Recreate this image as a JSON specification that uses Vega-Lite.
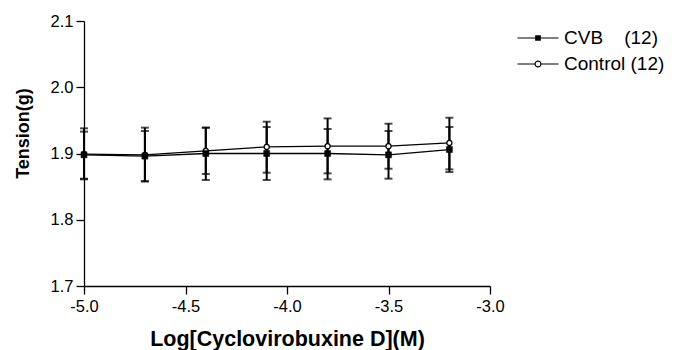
{
  "$schema": "https://vega.github.io/schema/vega-lite/v6.json",
  "autosize": {"type": "none"},
  "padding": {"left": 84, "top": 21, "right": 188, "bottom": 64},
  "width": 406,
  "height": 265,
  "background": "white",
  "config": {
    "font": "Liberation Sans",
    "view": {"stroke": null},
    "axis": {"grid": false, "domainColor": "black", "tickColor": "black", "domainWidth": 1.3, "tickWidth": 1.3, "labelColor": "black", "titleColor": "black", "labelFont": "Liberation Sans", "titleFont": "Liberation Sans"}
  },
  "data": {
    "values": [
      {"x": -5.0, "group": "CVB", "mean": 1.898, "lo": 1.862, "hi": 1.933},
      {"x": -4.7, "group": "CVB", "mean": 1.896, "lo": 1.858, "hi": 1.934},
      {"x": -4.4, "group": "CVB", "mean": 1.900, "lo": 1.860, "hi": 1.939},
      {"x": -4.1, "group": "CVB", "mean": 1.900, "lo": 1.860, "hi": 1.940},
      {"x": -3.8, "group": "CVB", "mean": 1.900, "lo": 1.861, "hi": 1.937},
      {"x": -3.5, "group": "CVB", "mean": 1.898, "lo": 1.862, "hi": 1.934},
      {"x": -3.2, "group": "CVB", "mean": 1.906, "lo": 1.872, "hi": 1.940},
      {"x": -5.0, "group": "Control", "mean": 1.899, "lo": 1.861, "hi": 1.938},
      {"x": -4.7, "group": "Control", "mean": 1.898, "lo": 1.858, "hi": 1.939},
      {"x": -4.4, "group": "Control", "mean": 1.904, "lo": 1.869, "hi": 1.939},
      {"x": -4.1, "group": "Control", "mean": 1.910, "lo": 1.871, "hi": 1.948},
      {"x": -3.8, "group": "Control", "mean": 1.911, "lo": 1.870, "hi": 1.953},
      {"x": -3.5, "group": "Control", "mean": 1.911, "lo": 1.877, "hi": 1.945},
      {"x": -3.2, "group": "Control", "mean": 1.916, "lo": 1.876, "hi": 1.954}
    ]
  },
  "encoding": {
    "x": {
      "field": "x", "type": "quantitative",
      "scale": {"domain": [-5, -3], "nice": false, "zero": false},
      "axis": {
        "values": [-5, -4.5, -4, -3.5, -3],
        "labelExpr": "(datum.value < 0 ? '-' : '') + format(abs(datum.value), '.1f')",
        "tickSize": 8, "labelFontSize": 16.5, "labelPadding": 4, "labelFlush": false,
        "title": "Log[Cyclovirobuxine D](M)", "titleFontSize": 21.5, "titleFontWeight": "bold",
        "titleY": 59, "titleBaseline": "alphabetic"
      }
    }
  },
  "layer": [
    {
      "transform": [{"filter": "datum.group == 'Control'"}],
      "mark": {"type": "line", "color": "black", "strokeWidth": 1.3},
      "encoding": {
        "y": {
          "field": "mean", "type": "quantitative",
          "scale": {"domain": [1.7, 2.1], "nice": false, "zero": false},
          "axis": {
            "values": [1.7, 1.8, 1.9, 2.0, 2.1], "format": ".1f",
            "tickSize": 8, "labelFontSize": 16.5, "labelPadding": 3, "labelFlush": false,
            "title": "Tension(g)", "titleFontSize": 18, "titleFontWeight": "bold",
            "titleAngle": -90, "titleX": -61, "titleY": 112, "titleAlign": "center", "titleBaseline": "middle"
          }
        }
      }
    },
    {
      "transform": [{"filter": "datum.group == 'CVB'"}],
      "mark": {"type": "line", "color": "black", "strokeWidth": 1.3},
      "encoding": {"y": {"field": "mean", "type": "quantitative"}}
    },
    {
      "mark": {"type": "rule", "color": "black", "strokeWidth": 2},
      "encoding": {
        "y": {"field": "lo", "type": "quantitative"},
        "y2": {"field": "hi"}
      }
    },
    {
      "mark": {"type": "tick", "orient": "horizontal", "color": "black", "size": 8, "thickness": 2},
      "encoding": {"y": {"field": "lo", "type": "quantitative"}}
    },
    {
      "mark": {"type": "tick", "orient": "horizontal", "color": "black", "size": 8, "thickness": 2},
      "encoding": {"y": {"field": "hi", "type": "quantitative"}}
    },
    {
      "transform": [{"filter": "datum.group == 'Control'"}],
      "mark": {"type": "point", "shape": "circle", "size": 26, "filled": true, "fill": "white", "stroke": "black", "strokeWidth": 1.2, "opacity": 1},
      "encoding": {"y": {"field": "mean", "type": "quantitative"}}
    },
    {
      "transform": [{"filter": "datum.group == 'CVB'"}],
      "mark": {"type": "point", "shape": "square", "size": 36, "filled": true, "fill": "black", "stroke": "black", "strokeWidth": 0.5, "opacity": 1},
      "encoding": {"y": {"field": "mean", "type": "quantitative"}}
    },
    {
      "mark": {"type": "point", "filled": false, "opacity": 0, "stroke": "black", "strokeWidth": 1.2},
      "encoding": {
        "y": {"field": "mean", "type": "quantitative"},
        "shape": {
          "field": "group", "type": "nominal",
          "scale": {
            "domain": ["CVB", "Control"],
            "range": [
              "M-2,0H2M-0.22,-0.22H0.22V0.22H-0.22ZM-0.22,-0.12H0.22M-0.22,-0.04H0.22M-0.22,0.04H0.22M-0.22,0.12H0.22",
              "M-2,0H-0.29M0.29,0H2M-0.29,0A0.29,0.29 0 1 0 0.29,0A0.29,0.29 0 1 0 -0.29,0Z"
            ]
          },
          "legend": {
            "title": null, "orient": "none", "legendX": 443, "legendY": 6,
            "labelFontSize": 19, "labelColor": "black", "labelFont": "Liberation Sans",
            "labelOffset": 15, "rowPadding": 5, "symbolSize": 420,
            "symbolStrokeWidth": 1.2, "symbolStrokeColor": "black", "symbolOpacity": 1,
            "labelExpr": "datum.label == 'CVB' ? 'CVB\u00a0\u00a0\u00a0\u00a0(12)' : 'Control\u00a0(12)'",
            "encode": {"symbols": {"update": {
              "opacity": {"value": 1},
              "stroke": {"value": "black"},
              "strokeOpacity": {"value": 1},
              "strokeWidth": {"value": 1.2}
            }}}
          }
        }
      }
    }
  ]
}
